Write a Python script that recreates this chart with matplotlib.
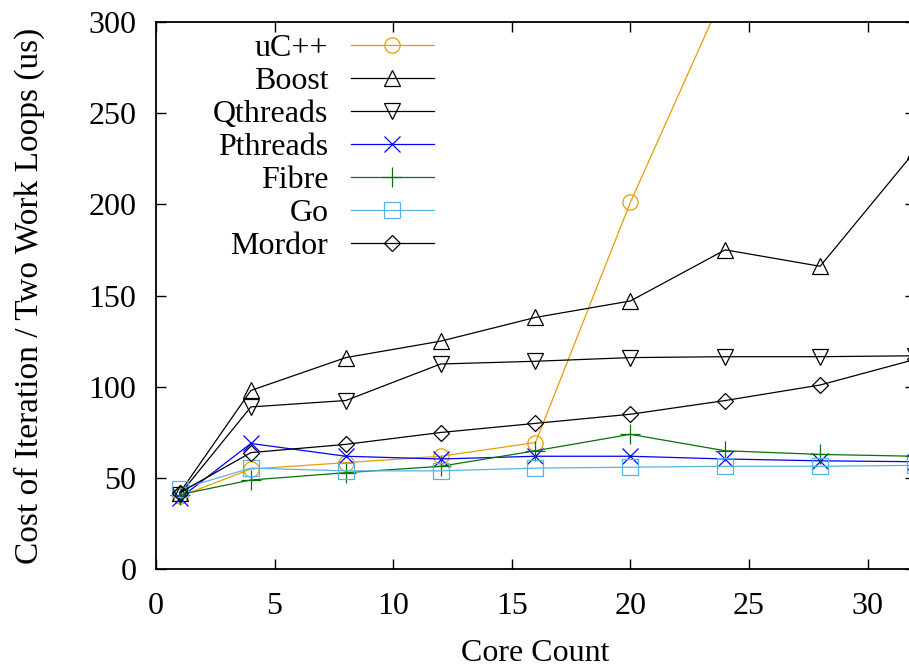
from matplotlib import pyplot as plt
import numpy as np

plt.rcParams['font.family'] = ['Liberation Serif', 'DejaVu Serif']

# core counts used in every run
cores = [1, 4, 8, 12, 16, 20, 24, 28, 32]

# cost per iteration (us) for each runtime
ucpp = [40, 55, 58.5, 62, 69.5, 201, 317, 450, 600]
boost = [42, 98, 116, 125, 138, 147, 175, 166, 229]
qthreads = [41, 89, 92.5, 112.5, 114, 116, 116.5, 116.5, 117]
pthreads = [39, 69, 62, 60.5, 62, 62, 60.5, 59.5, 59]
fibre = [41, 49, 53, 56.5, 65, 74, 65, 63, 62]
go = [44, 55.5, 54, 54, 55.5, 56, 56.5, 56.5, 57]
mordor = [42, 64, 68.5, 75, 80, 85, 92.5, 101, 115]

series = [
    ("uC++", ucpp, '#E69F00', 'o', 11),
    ("Boost", boost, 'black', '^', 12),
    ("Qthreads", qthreads, 'black', 'v', 12),
    ("Pthreads", pthreads, '#0000ff', 'x', 12),
    ("Fibre", fibre, '#0a700a', '+', 14),
    ("Go", go, '#56B4E9', 's', 11),
    ("Mordor", mordor, 'black', 'D', 8.5),
]

FS = 23

fig = plt.figure(figsize=(9.09, 6.66), dpi=100)
# axes run a little past the right edge of the canvas, so the right spine is cut off
ax = fig.add_axes([0.1716, 0.1449, 0.835, 0.8228])

for name, vals, col, mk, ms in series:
    ax.plot(cores, vals, color=col, marker=mk, markersize=ms, linewidth=0.9,
            markerfacecolor='none', markeredgecolor=col, markeredgewidth=0.9,
            label=name)

ax.set(xlim=(0, 32), ylim=(0, 300))
ax.set_xticks(np.arange(0, 31, 5))
ax.set_yticks(np.arange(0, 301, 50))
ax.tick_params(direction='in', length=7.5, width=1, labelsize=FS, pad=16,
               top=True, right=True)
ax.tick_params(axis='y', pad=14)
for sp in ax.spines.values():
    sp.set_linewidth(1.3)

ax.set_xlabel("Core Count", fontsize=FS, labelpad=13)
ax.set_ylabel("Cost of Iteration / Two Work Loops (us)", fontsize=24, labelpad=31)

ax.legend(loc='upper left', bbox_to_anchor=(0.075, 0.977), markerfirst=False,
          frameon=False, fontsize=FS, handlelength=2.6, handletextpad=0.7,
          labelspacing=0.11, borderaxespad=0, borderpad=0)

fig.savefig('out.png', dpi=100)
